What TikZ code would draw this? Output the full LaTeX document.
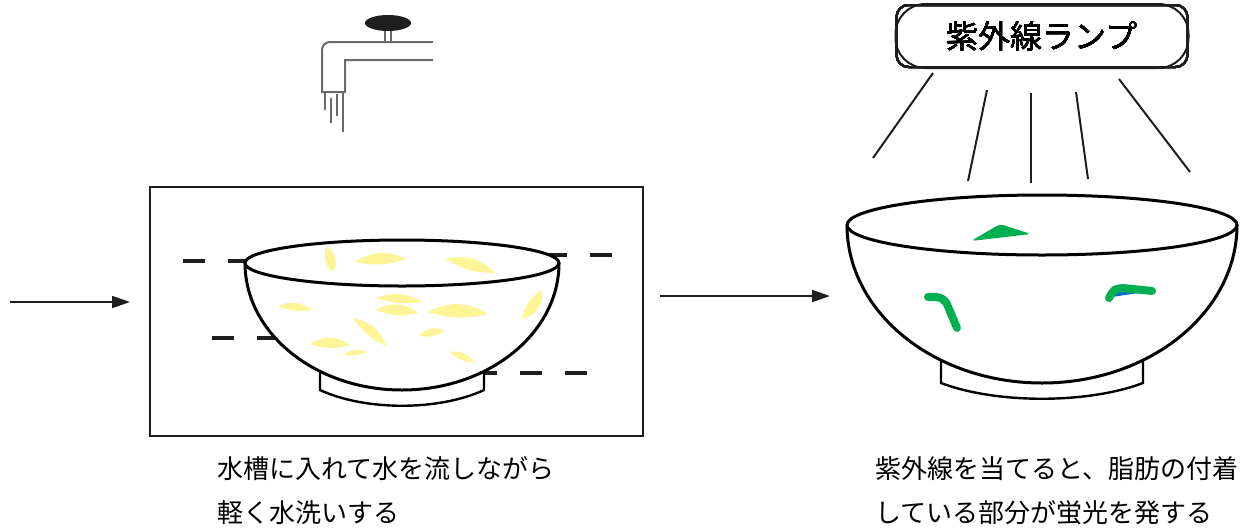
\documentclass[tikz,border=0pt]{standalone}
\usepackage{fontspec}
\newfontfamily\jp{Noto Sans CJK JP}
\usetikzlibrary{arrows.meta}
\usepackage{xcolor}
\definecolor{grease}{RGB}{255,244,150}
\definecolor{glow}{RGB}{0,176,80}
\definecolor{glowblue}{RGB}{0,112,192}
\definecolor{tap}{RGB}{105,105,105}
\definecolor{ink}{RGB}{30,30,30}
\newcommand{\bowl}[6] {
    % foot, body and rim; centre x, centre y, rim radii, depth, foot half width
    \draw[line width=1.2pt,fill=white]
        ({#1-#6},{#2+#5-30}) -- ({#1-#6},{#2+#5})
        .. controls ({#1-#6*0.45},{#2+#5+21}) and ({#1+#6*0.45},{#2+#5+21})
        .. ({#1+#6},{#2+#5}) -- ({#1+#6},{#2+#5-30});
    \draw[line width=1.5pt,fill=white]
        ({#1-#3},#2) arc[start angle=180,end angle=0,x radius=#3,y radius=#5];
    \draw[line width=1.5pt,fill=white] (#1,#2) ellipse[x radius=#3,y radius=#4];
}
\newcommand{\leaf}[5] {
  \fill[grease] (#1,#2) to[bend left=#5] (#3,#4) to[bend left={#5/2}] (#1,#2);
}
\tikzset{
    water/.style={ink,line width=2pt,dash pattern=on 11pt off 11.5pt},
    faucet/.style={tap,line width=1pt},
    arr/.style={ink,line width=0.9pt,-{Triangle[length=9pt,width=6pt]}},
    caption/.style={anchor=north west,align=left,inner sep=0pt,
        font=\jp\fontsize{13pt}{22pt}\selectfont},
}

\begin{document}
\begin{tikzpicture}[x=0.5pt,y=-0.5pt]
        \useasboundingbox (0,0) rectangle (1253,531);
        % tap
        \draw[faucet,rounded corners=4pt] (433,42) -- (322,42) [sharp corners] -- (322,92)
            -- (345,92) -- (345,60) -- (433,60);
        \foreach \x/\a/\b in {325/92/110, 331/98/123, 337/94/116, 343/92/132}
            \draw[faucet] (\x,\a) -- (\x,\b);
        \draw[faucet] (385,30) -- (385,42) (391,30) -- (391,42);
        \fill[ink] (388,23) ellipse[x radius=23,y radius=8];
        % tank
        \draw[ink,line width=1.2pt] (150,187) rectangle (643,436);
        \draw[water] (183,261) -- (250,261);
        \draw[water] (612,255) -- (545,255);
        \draw[water] (212,338) -- (290,338);
        \draw[water] (587,373) -- (475,373);
        \bowl{402}{263}{157}{23}{127}{82}
        \foreach \a/\b/\c/\d/\e in {326/247/332/272/60, 355/262/406/259/30,
            445/259/495/273/30, 278/306/312/310/30, 376/298/423/302/25,
            376/310/418/313/35, 428/312/488/314/30, 542/290/522/319/45,
            353/318/386/346/30, 310/344/350/345/35, 342/355/368/352/25,
            419/336/445/331/40, 450/352/474/363/35}
            \leaf{\a}{\b}{\c}{\d}{\e}
        % lamp
        \node[draw=ink,line width=1pt,rounded corners=6pt,minimum width=145.5pt,
            minimum height=31pt,font=\jp\fontsize{16pt}{16pt}\selectfont]
            (lamp) at (1042,36) {紫外線ランプ};
        \draw[ink,line width=1pt,rounded corners=15pt]
            (lamp.south west) rectangle (lamp.north east);
        \foreach \a/\b/\c/\d in {933/73/873/158, 987/90/968/181, 1031/93/1031/183,
            1076/92/1088/179, 1119/79/1190/172}
            \draw[ink,line width=1pt] (\a,\b) -- (\c,\d);
        % lit bowl
        \bowl{1042}{225}{195}{30}{158}{101}
        \fill[glow,rounded corners=2pt] (971,241) -- (1000,224) -- (1031,234) -- cycle;
        \draw[glow,line width=4pt,line cap=round,rounded corners=4pt]
            (928,297) -- (944,297) -- (957,328);
        \fill[glowblue] (1112,297) -- (1121,290) -- (1138,293) -- cycle;
        \draw[glow,line width=4pt,line cap=round]
            (1109,298) .. controls (1114,289) .. (1123,288) -- (1152,291);
        % arrows
        \coordinate (in) at (10,302);
        \coordinate (tankin) at (130,302);
        \coordinate (tankout) at (660,296);
        \coordinate (lampin) at (830,296);
        \draw[arr] (in) -- (tankin);
        \draw[arr] (tankout) -- (lampin);
        % captions
        \node[caption] (wash) at (217,456) {水槽に入れて水を流しながら\\軽く水洗いする};
        \node[caption] (glowtext) at (875,456) {紫外線を当てると、脂肪の付着\\している部分が蛍光を発する};
\end{tikzpicture}
\end{document}
